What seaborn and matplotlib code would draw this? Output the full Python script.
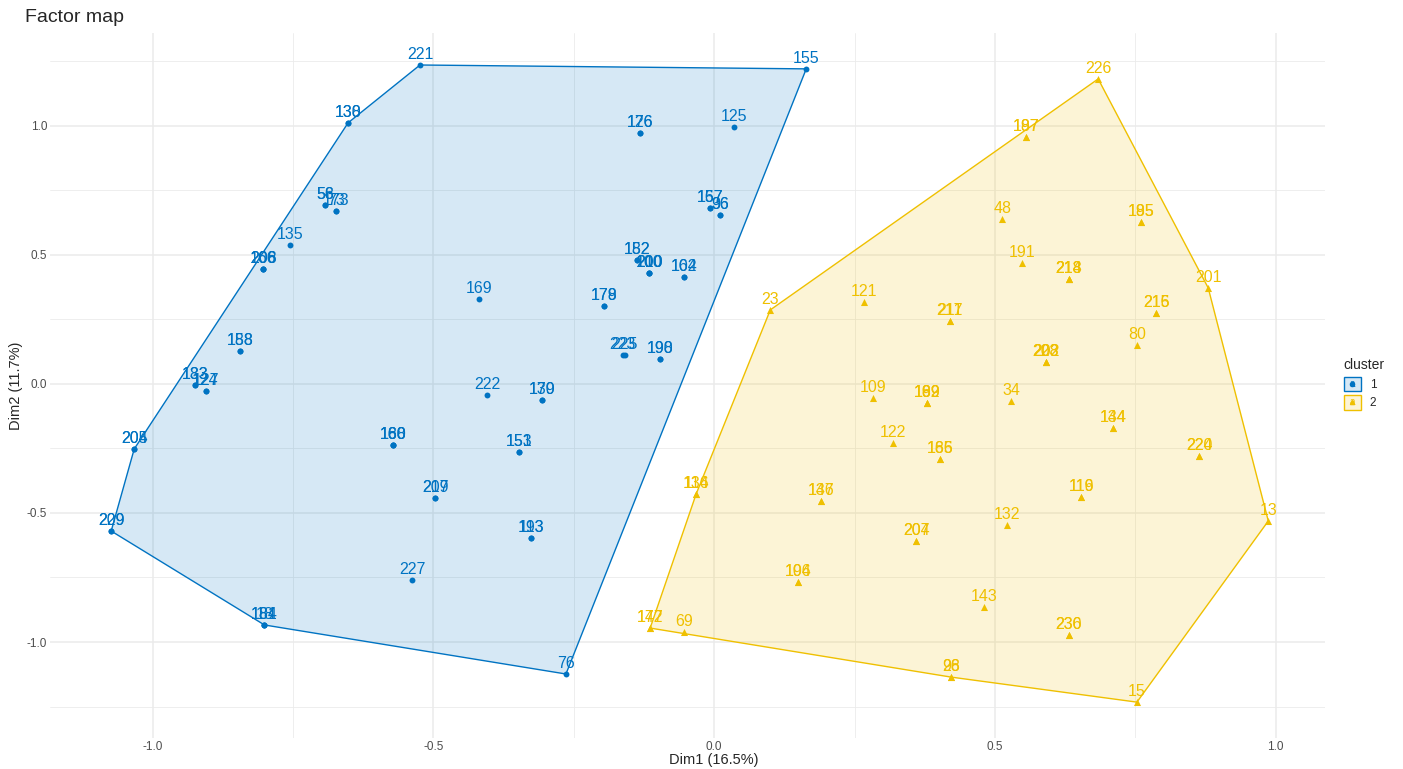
import numpy as np
import pandas as pd
import matplotlib
matplotlib.use("Agg")
import matplotlib.pyplot as plt
import seaborn as sns
from matplotlib.patches import Rectangle, Patch
from matplotlib.lines import Line2D
from matplotlib.text import Text
from matplotlib.colors import to_rgba
from matplotlib.legend_handler import HandlerBase
from matplotlib.ticker import MultipleLocator

# ---- cluster 1 observations (PCA coordinates) ----
c1_labels = ["221", "155", "130", "138", "125", "126", "176", "56", "58", "73", "173",
             "135", "206", "208", "166", "157", "167", "36", "96", "152", "182",
             "200", "210", "100", "102", "164", "169", "178", "179", "225", "223",
             "190", "198", "222", "139", "170", "153", "151", "160", "180", "168",
             "133", "183", "124", "127", "158", "188", "204", "205", "209", "229",
             "18", "181", "184", "207", "219", "193", "113", "227", "76"]
c1_dim1 = [-0.524, 0.164, -0.652, -0.652, 0.036, -0.132, -0.132, -0.693, -0.693, -0.673, -0.673,
           -0.755, -0.803, -0.803, -0.803, -0.007, -0.007, 0.011, 0.011, -0.137, -0.137,
           -0.116, -0.116, -0.116, -0.053, -0.053, -0.419, -0.196, -0.196, -0.159, -0.163,
           -0.096, -0.096, -0.404, -0.306, -0.306, -0.347, -0.347, -0.572, -0.572, -0.572,
           -0.924, -0.924, -0.906, -0.906, -0.845, -0.845, -1.033, -1.033, -1.074, -1.074,
           -0.801, -0.801, -0.801, -0.497, -0.497, -0.326, -0.326, -0.538, -0.264]
c1_dim2 = [1.236, 1.221, 1.012, 1.012, 0.996, 0.973, 0.973, 0.694, 0.694, 0.671, 0.671,
           0.539, 0.446, 0.446, 0.446, 0.682, 0.682, 0.655, 0.655, 0.481, 0.481,
           0.430, 0.430, 0.430, 0.415, 0.415, 0.329, 0.302, 0.302, 0.112, 0.112,
           0.097, 0.097, -0.043, -0.062, -0.062, -0.264, -0.264, -0.236, -0.236, -0.236,
           -0.004, -0.004, -0.027, -0.027, 0.128, 0.128, -0.252, -0.252, -0.570, -0.570,
           -0.934, -0.934, -0.934, -0.442, -0.442, -0.597, -0.597, -0.760, -1.124]

# ---- cluster 2 observations ----
c2_labels = ["226", "187", "197", "48", "185", "195", "191", "214", "218", "213", "201",
             "215", "216", "80", "23", "121", "217", "211", "203", "228", "202", "109",
             "162", "189", "199", "34", "134", "144", "220", "224", "122", "165", "186",
             "114", "136", "137", "146", "116", "119", "132", "13", "204", "207",
             "104", "196", "143", "147", "172", "69", "26", "98", "230", "236", "15"]
c2_dim1 = [0.684, 0.556, 0.556, 0.513, 0.760, 0.760, 0.549, 0.632, 0.632, 0.632, 0.880,
           0.787, 0.787, 0.753, 0.100, 0.267, 0.420, 0.420, 0.591, 0.591, 0.591, 0.283,
           0.379, 0.379, 0.379, 0.529, 0.711, 0.711, 0.864, 0.864, 0.319, 0.402, 0.402,
           -0.032, -0.032, 0.191, 0.191, 0.654, 0.654, 0.522, 0.987, 0.360, 0.360,
           0.150, 0.150, 0.481, -0.114, -0.114, -0.053, 0.422, 0.422, 0.632, 0.632, 0.753]
c2_dim2 = [1.182, 0.957, 0.957, 0.640, 0.628, 0.628, 0.469, 0.407, 0.407, 0.407, 0.372,
           0.275, 0.275, 0.151, 0.287, 0.318, 0.244, 0.244, 0.085, 0.085, 0.085, -0.054,
           -0.074, -0.074, -0.074, -0.066, -0.171, -0.171, -0.279, -0.279, -0.229, -0.291, -0.291,
           -0.426, -0.426, -0.453, -0.453, -0.438, -0.438, -0.547, -0.531, -0.609, -0.609,
           -0.767, -0.767, -0.864, -0.946, -0.946, -0.961, -1.136, -1.136, -0.973, -0.973, -1.233]

cluster_names = ["1", "2"]
cluster_colors = ["#0073C2", "#EFC000"]
cluster_markers = ["o", "^"]
axis_labels = ["Dim1 (16.5%)", "Dim2 (11.7%)"]
plot_title = "Factor map"

df = pd.concat([
    pd.DataFrame({"label": c1_labels, "Dim1": c1_dim1, "Dim2": c1_dim2, "cluster": "1"}),
    pd.DataFrame({"label": c2_labels, "Dim1": c2_dim1, "Dim2": c2_dim2, "cluster": "2"}),
], ignore_index=True)


def convex_hull(points):
    pts = sorted(set(points))
    if len(pts) < 3:
        return pts

    def cross(o, a, b):
        return (a[0] - o[0]) * (b[1] - o[1]) - (a[1] - o[1]) * (b[0] - o[0])

    lower, upper = [], []
    for p in pts:
        while len(lower) >= 2 and cross(lower[-2], lower[-1], p) <= 0:
            lower.pop()
        lower.append(p)
    for p in reversed(pts):
        while len(upper) >= 2 and cross(upper[-2], upper[-1], p) <= 0:
            upper.pop()
        upper.append(p)
    return lower[:-1] + upper[:-1]


sns.set_theme(style="white")
plt.rcParams["font.family"] = ["Liberation Sans", "DejaVu Sans"]
plt.rcParams["axes.unicode_minus"] = False

fig = plt.figure(figsize=(14.03, 7.69), dpi=100)
ax = fig.add_axes([50 / 1403, 31 / 769, 1275 / 1403, 705 / 769])

# hull polygons
for name, col in zip(cluster_names, cluster_colors):
    sub = df[df["cluster"] == name]
    hull = convex_hull(list(zip(sub["Dim1"], sub["Dim2"])))
    hx = [p[0] for p in hull] + [hull[0][0]]
    hy = [p[1] for p in hull] + [hull[0][1]]
    ax.fill(hx, hy, facecolor=to_rgba(col, 0.16), edgecolor="none", zorder=1)
    ax.plot(hx, hy, color=col, lw=1.0, zorder=2, solid_joinstyle="miter")

# points: circles for cluster 1, triangles for cluster 2
point_sizes = {"1": 18, "2": 26}
for name, col, mk in zip(cluster_names, cluster_colors, cluster_markers):
    sub = df[df["cluster"] == name]
    sns.scatterplot(data=sub, x="Dim1", y="Dim2", color=col, marker=mk,
                    s=point_sizes[name], linewidth=0, legend=False, ax=ax, zorder=3)

for _, r in df.iterrows():
    col = cluster_colors[cluster_names.index(r["cluster"])]
    ax.annotate(r["label"], (r["Dim1"], r["Dim2"]), xytext=(0, 2.0),
                textcoords="offset points", ha="center", va="bottom",
                fontsize=11.5, color=col, zorder=4)

ax.set_xlim(-1.183, 1.088)
ax.set_ylim(-1.372, 1.360)
ax.xaxis.set_major_locator(MultipleLocator(0.5))
ax.yaxis.set_major_locator(MultipleLocator(0.5))
ax.xaxis.set_minor_locator(MultipleLocator(0.25))
ax.yaxis.set_minor_locator(MultipleLocator(0.25))
ax.xaxis.set_major_formatter(plt.FuncFormatter(lambda v, p: f"{v:.1f}"))
ax.yaxis.set_major_formatter(plt.FuncFormatter(lambda v, p: f"{v:.1f}"))
ax.set_axisbelow(True)
ax.grid(which="major", color="#EBEBEB", lw=1.1)
ax.grid(which="minor", color="#EBEBEB", lw=0.6)
for s in ax.spines.values():
    s.set_visible(False)
ax.tick_params(which="both", length=0, labelsize=8.5, labelcolor="#4D4D4D", pad=2)
ax.set_xlabel(axis_labels[0], fontsize=10.5)
ax.set_ylabel(axis_labels[1], fontsize=10.5, labelpad=3)
ax.xaxis.set_label_coords((714 - 50) / 1275, -15 / 705)

fig.text(25 / 1403, 1 - 18 / 769, plot_title, fontsize=14, va="center", ha="left")


class ClusterKey(HandlerBase):
    def __init__(self, color, marker):
        super().__init__()
        self.color = color
        self.marker = marker

    def create_artists(self, legend, orig_handle, xdescent, ydescent,
                       width, height, fontsize, trans):
        x0, y0 = -xdescent, -ydescent
        rect = Rectangle((x0, y0), width, height, facecolor=to_rgba(self.color, 0.16),
                         edgecolor=self.color, lw=1.0, transform=trans)
        cx, cy = x0 + width / 2, y0 + height / 2
        mk = Line2D([cx], [cy], marker=self.marker, color=self.color, markersize=3,
                    linestyle="none", transform=trans)
        txt = Text(cx, cy, "a", color=self.color, fontsize=7, ha="center",
                   va="center", transform=trans)
        return [rect, mk, txt]


handles = [Patch(label=n) for n in cluster_names]
hmap = {h: ClusterKey(c, m) for h, c, m in zip(handles, cluster_colors, cluster_markers)}
fig.legend(handles=handles, labels=cluster_names, handler_map=hmap, title="cluster",
           loc="center left", bbox_to_anchor=(1333 / 1403, 1 - 384 / 769),
           frameon=False, fontsize=8.5, title_fontsize=10, handlelength=1.5,
           handleheight=1.5, handletextpad=0.7, labelspacing=0.35, alignment="left")

fig.savefig("out.png", dpi=100)
